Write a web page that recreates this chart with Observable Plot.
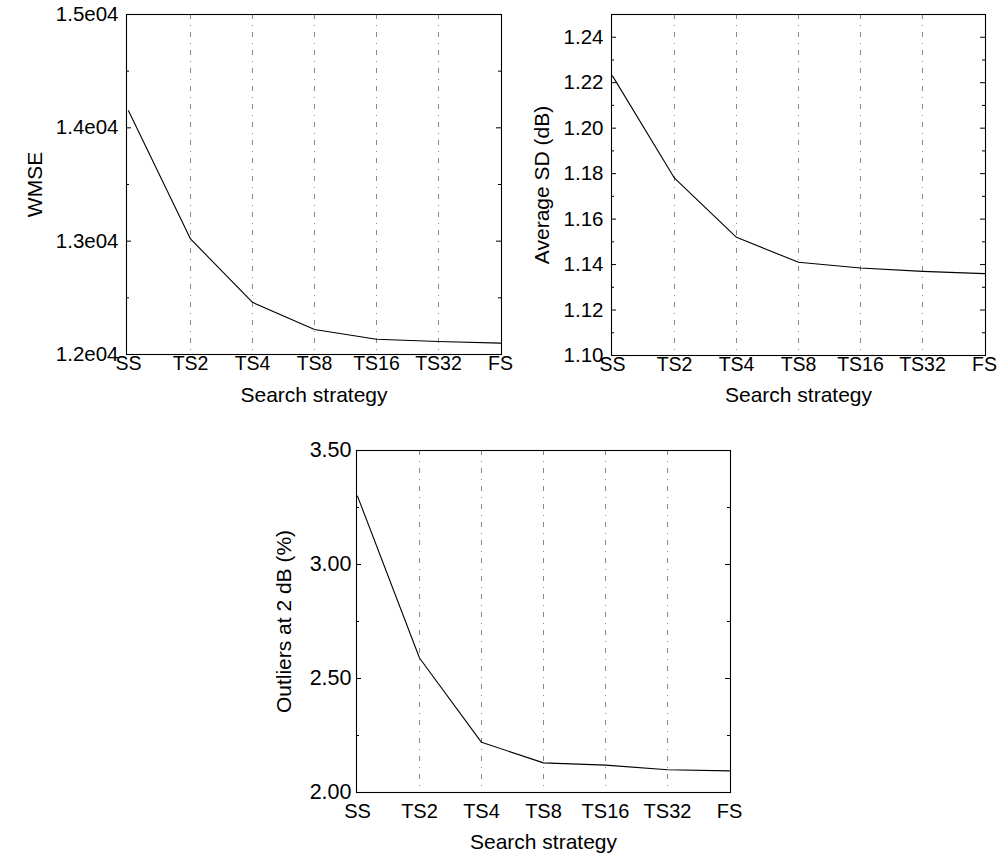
<!DOCTYPE html>
<html>
<head>
<meta charset="utf-8">
<script src="https://cdn.jsdelivr.net/npm/d3@7"></script>
<script src="https://cdn.jsdelivr.net/npm/@observablehq/plot@0.6"></script>
<style>
  html, body { margin: 0; padding: 0; background: white; }
  #wrap { position: relative; width: 1003px; height: 856px; background: white; overflow: hidden; }
  .panel { position: absolute; }
</style>
</head>
<body>
<div id="wrap"></div>
<script>
// ---- data ----
const categories = ["SS", "TS2", "TS4", "TS8", "TS16", "TS32", "FS"];
const wmse = [14150, 13020, 12460, 12220, 12135, 12115, 12100];
const avgSD = [1.223, 1.178, 1.152, 1.141, 1.1385, 1.137, 1.136];
const outliers = [3.30, 2.59, 2.22, 2.13, 2.12, 2.10, 2.095];

const wmseTicks = [12000, 13000, 14000, 15000];
const wmseMinor = [12500, 13500, 14500];
const sdTicks = [1.10, 1.12, 1.14, 1.16, 1.18, 1.20, 1.22, 1.24];
const sdMinor = [1.11, 1.13, 1.15, 1.17, 1.19, 1.21, 1.23];
const outTicks = [2.00, 2.50, 3.00, 3.50];
const outMinor = [2.25, 2.75, 3.25];

const xLabel = "Search strategy";

function panel(cfg) {
  const data = categories.map((c, i) => ({cat: c, v: cfg.values[i]}));
  const fw = cfg.width - cfg.marginLeft - cfg.marginRight;
  const font = "Liberation Sans, Arial, sans-serif";
  const p = Plot.plot({
    width: cfg.width,
    height: cfg.height,
    marginLeft: cfg.marginLeft,
    marginRight: cfg.marginRight,
    marginTop: cfg.marginTop,
    marginBottom: cfg.marginBottom,
    style: {fontFamily: font, color: "black", background: "transparent", overflow: "visible"},
    x: {type: "point", domain: categories, padding: 0},
    y: {domain: cfg.domain},
    marks: [
      Plot.ruleX(categories.slice(1, -1), {x: d => d, stroke: "#7a7a7a", strokeWidth: 0.9, strokeDasharray: "5,6,1,6"}),
      Plot.tickY(cfg.ticks, {y: d => d, insetRight: fw - 5, stroke: "black"}),
      Plot.tickY(cfg.minor, {y: d => d, insetRight: fw - 3, stroke: "black"}),
      Plot.tickY(cfg.ticks, {y: d => d, insetLeft: fw - 5, stroke: "black"}),
      Plot.tickY(cfg.minor, {y: d => d, insetLeft: fw - 3, stroke: "black"}),
      Plot.frame({stroke: "black", strokeWidth: 1.1}),
      Plot.line(data, {x: "cat", y: "v", stroke: "black", strokeWidth: 1.1}),
      Plot.axisX({tickSize: 0, tickPadding: cfg.xPad, fontSize: cfg.xFont, label: null}),
      Plot.axisY({ticks: cfg.ticks, tickFormat: cfg.fmt, tickSize: 0, tickPadding: cfg.yPad, fontSize: cfg.yFont, label: null}),
      Plot.text([xLabel], {frameAnchor: "bottom", textAnchor: "middle", lineAnchor: "middle", dy: cfg.xLabelDy, fontSize: 21, fill: "black"}),
      Plot.text([cfg.yLabel], {frameAnchor: "left", textAnchor: "middle", lineAnchor: "middle", rotate: -90, dx: cfg.yLabelDx, fontSize: 21, fill: "black"})
    ]
  });
  p.classList.add("panel");
  p.style.left = cfg.left + "px";
  p.style.top = cfg.top + "px";
  document.getElementById("wrap").appendChild(p);
}

panel({
  values: wmse, domain: [12000, 15000], ticks: wmseTicks, minor: wmseMinor,
  fmt: d => (d / 1e4).toFixed(1) + "e04", yLabel: "WMSE",
  left: 0, top: 0, width: 510, height: 410,
  marginLeft: 126, marginRight: 9, marginTop: 14, marginBottom: 56,
  xPad: 2, yPad: 8, xFont: 19.5, yFont: 20.5, xLabelDy: 41, yLabelDx: -91
});

panel({
  values: avgSD, domain: [1.10, 1.25], ticks: sdTicks, minor: sdMinor,
  fmt: d => d.toFixed(2), yLabel: "Average SD (dB)",
  left: 500, top: 0, width: 503, height: 410,
  marginLeft: 111, marginRight: 18, marginTop: 14, marginBottom: 55,
  xPad: 2, yPad: 8, xFont: 19.5, yFont: 20.5, xLabelDy: 40, yLabelDx: -69
});

panel({
  values: outliers, domain: [2.0, 3.5], ticks: outTicks, minor: outMinor,
  fmt: d => d.toFixed(2), yLabel: "Outliers at 2 dB (%)",
  left: 250, top: 430, width: 500, height: 426,
  marginLeft: 106, marginRight: 20, marginTop: 20, marginBottom: 64,
  xPad: 11, yPad: 5, xFont: 20, yFont: 21.5, xLabelDy: 50, yLabelDx: -72
});
</script>
</body>
</html>
